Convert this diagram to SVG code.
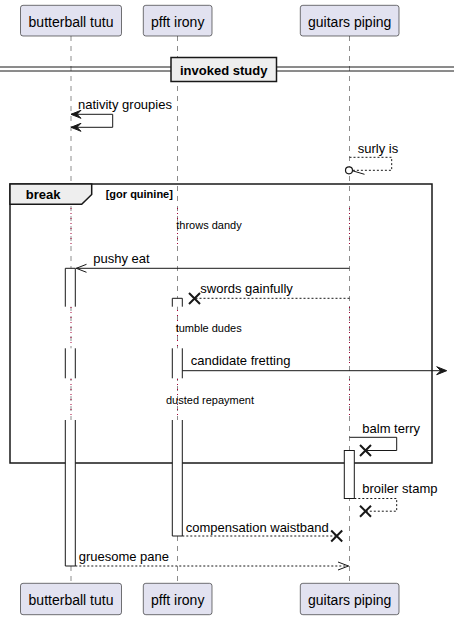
<svg xmlns="http://www.w3.org/2000/svg" width="454" height="620" viewBox="0 0 454 620">
<style>
.pbox{fill:#E2E2F0;stroke:#181818;stroke-width:0.6}
.ptxt{font-family:"Liberation Sans",Arial,sans-serif;font-size:14px;fill:#000;text-anchor:middle}
.life{stroke:#181818;stroke-width:0.5;stroke-dasharray:5 5;fill:none}
.delay{stroke:#A80036;stroke-width:1;stroke-dasharray:1 4;fill:none}
.msg{font-family:"Liberation Sans",Arial,sans-serif;font-size:13px;fill:#000}
.dtxt{font-family:"Liberation Sans",Arial,sans-serif;font-size:11px;fill:#000;text-anchor:middle}
.line{stroke:#181818;stroke-width:1;fill:none}
.dash{stroke:#181818;stroke-width:1;fill:none;stroke-dasharray:2 2}
.head{fill:#181818;stroke:#181818;stroke-width:1}
.x{stroke:#181818;stroke-width:2;fill:none}
.act{fill:#FFFFFF;stroke:none}
.actl{stroke:#181818;stroke-width:1;fill:none}
</style>

<g id="lifelines">
<line class="life" x1="71" y1="36" x2="71" y2="583"/>
<line class="life" x1="177.5" y1="36" x2="177.5" y2="583"/>
<line class="life" x1="349.5" y1="36" x2="349.5" y2="583"/>
</g>

<g id="divider">
<line x1="0" y1="67" x2="454" y2="67" stroke="#181818" stroke-width="1"/>
<line x1="0" y1="71" x2="454" y2="71" stroke="#181818" stroke-width="1"/>
<rect x="171" y="57.5" width="105.5" height="24" fill="#EEEEEE" stroke="#181818" stroke-width="1.5"/>
<text x="223.7" y="75" font-family="'Liberation Sans',Arial,sans-serif" font-size="13" font-weight="bold" text-anchor="middle">invoked study</text>
</g>

<g id="frame-break">
<rect x="10" y="184" width="422" height="279" fill="none" stroke="#181818" stroke-width="1.5"/>
<polygon points="10,184 91.7,184 91.7,194.5 81.7,204.3 10,204.3" fill="#EEEEEE" stroke="#181818" stroke-width="1.5"/>
<text x="25.7" y="199" font-family="'Liberation Sans',Arial,sans-serif" font-size="13" font-weight="bold">break</text>
<text x="105.7" y="198.3" font-family="'Liberation Sans',Arial,sans-serif" font-size="11" font-weight="bold">[gor quinine]</text>
</g>

<g id="delays">
<line class="delay" x1="71" y1="208" x2="71" y2="246"/>
<line class="delay" x1="177.5" y1="208" x2="177.5" y2="246"/>
<line class="delay" x1="349.5" y1="208" x2="349.5" y2="246"/>
<line class="delay" x1="71" y1="307" x2="71" y2="347"/>
<line class="delay" x1="177.5" y1="300" x2="177.5" y2="347"/>
<line class="delay" x1="349.5" y1="307" x2="349.5" y2="366"/>
<line class="delay" x1="71" y1="379" x2="71" y2="419"/>
<line class="delay" x1="177.5" y1="379" x2="177.5" y2="419"/>
<line class="delay" x1="349.5" y1="379" x2="349.5" y2="419"/>
<text class="dtxt" x="209" y="228.5">throws dandy</text>
<text class="dtxt" x="208.7" y="331.5">tumble dudes</text>
<text class="dtxt" x="210" y="404">dusted repayment</text>
</g>

<g id="activation-butterball">
<rect class="act" x="65.3" y="268.3" width="10" height="38.4"/>
<rect class="act" x="65.3" y="348.3" width="10" height="30"/>
<rect class="act" x="65.3" y="420" width="10" height="146"/>
<path class="actl" d="M65.3,306.7 V268.3 H75.3 V306.7 M65.3,348.3 V378.3 M75.3,348.3 V378.3 M65.3,420 V566 H75.3 V420"/>
</g>
<g id="activation-pfft">
<rect class="act" x="172.3" y="298.3" width="10" height="8.4"/>
<rect class="act" x="172.3" y="348.3" width="10" height="30"/>
<rect class="act" x="172.3" y="420" width="10" height="116"/>
<path class="actl" d="M172.3,306.7 V298.3 H182.3 V306.7 M172.3,348.3 V378.3 M182.3,348.3 V378.3 M172.3,420 V536 H182.3 V420"/>
</g>
<g id="activation-guitars">
<rect x="344.3" y="450.5" width="10" height="48" fill="#FFFFFF" stroke="#181818" stroke-width="1"/>
</g>

<g id="connectors">
<!-- nativity groupies -->
<polyline class="line" points="71,114.3 112.7,114.3 112.7,127.3 71,127.3"/>
<polygon class="head" points="71,114.3 81,110.3 77,114.3 81,118.3"/>
<polygon class="head" points="71,127.3 81,123.3 77,127.3 81,131.3"/>
<text class="msg" x="78" y="109">nativity groupies</text>
<!-- surly is -->
<polyline class="dash" points="349.5,157.3 391.7,157.3 391.7,170.3 353,170.3"/>
<circle cx="349" cy="170.3" r="3.5" fill="#FFFFFF" stroke="#181818" stroke-width="1.2"/>
<line class="line" x1="352.5" y1="170.8" x2="364.5" y2="174.3"/>
<text class="msg" x="357.7" y="153">surly is</text>
<!-- pushy eat -->
<line class="line" x1="349.5" y1="268.3" x2="75.8" y2="268.3"/>
<polyline class="line" points="86.5,264.3 76.3,268.3 86.5,272.3"/>
<text class="msg" x="93.3" y="262.5">pushy eat</text>
<!-- swords gainfully -->
<line class="dash" x1="349.5" y1="298.3" x2="196" y2="298.3"/>
<path class="x" d="M189,293 L200,304 M200,293 L189,304"/>
<text class="msg" x="200.3" y="293.3">swords gainfully</text>
<!-- candidate fretting -->
<line class="line" x1="182.3" y1="370.7" x2="444" y2="370.7"/>
<polygon class="head" points="446.7,370.7 436.7,366.7 440.7,370.7 436.7,374.7"/>
<text class="msg" x="190.7" y="365.3">candidate fretting</text>
<!-- balm terry -->
<polyline class="line" points="349.5,437.3 396.7,437.3 396.7,450.5 366,450.5"/>
<path class="x" d="M360,445 L371,456 M371,445 L360,456"/>
<text class="msg" x="362.3" y="432.7">balm terry</text>
<!-- broiler stamp -->
<polyline class="dash" points="354.3,498.5 396.7,498.5 396.7,511.2 366,511.2"/>
<path class="x" d="M360,505.7 L371,516.7 M371,505.7 L360,516.7"/>
<text class="msg" x="362.3" y="492.7">broiler stamp</text>
<!-- compensation waistband -->
<line class="dash" x1="182.3" y1="536" x2="336" y2="536"/>
<path class="x" d="M331.2,530.5 L342.2,541.5 M342.2,530.5 L331.2,541.5"/>
<text class="msg" x="185.7" y="531.7">compensation waistband</text>
<!-- gruesome pane -->
<line class="dash" x1="75.3" y1="566" x2="348.5" y2="566"/>
<polyline class="line" points="338,562 348.5,566 338,570"/>
<text class="msg" x="78.7" y="561">gruesome pane</text>
</g>

<g id="p-butterball-top"><rect class="pbox" x="20.5" y="5.3" width="101" height="30.7" rx="2.5"/><text class="ptxt" x="71" y="26.5">butterball tutu</text></g>
<g id="p-pfft-top"><rect class="pbox" x="143.3" y="5.3" width="68.7" height="30.7" rx="2.5"/><text class="ptxt" x="177.7" y="26.5">pfft irony</text></g>
<g id="p-guitars-top"><rect class="pbox" x="300.3" y="5.3" width="98.7" height="30.7" rx="2.5"/><text class="ptxt" x="349.7" y="26.5">guitars piping</text></g>
<g id="p-butterball-bottom"><rect class="pbox" x="20.5" y="583.3" width="101" height="31.4" rx="2.5"/><text class="ptxt" x="71" y="604.8">butterball tutu</text></g>
<g id="p-pfft-bottom"><rect class="pbox" x="143.3" y="583.3" width="68.7" height="31.4" rx="2.5"/><text class="ptxt" x="177.7" y="604.8">pfft irony</text></g>
<g id="p-guitars-bottom"><rect class="pbox" x="300.3" y="583.3" width="98.7" height="31.4" rx="2.5"/><text class="ptxt" x="349.7" y="604.8">guitars piping</text></g>
</svg>
